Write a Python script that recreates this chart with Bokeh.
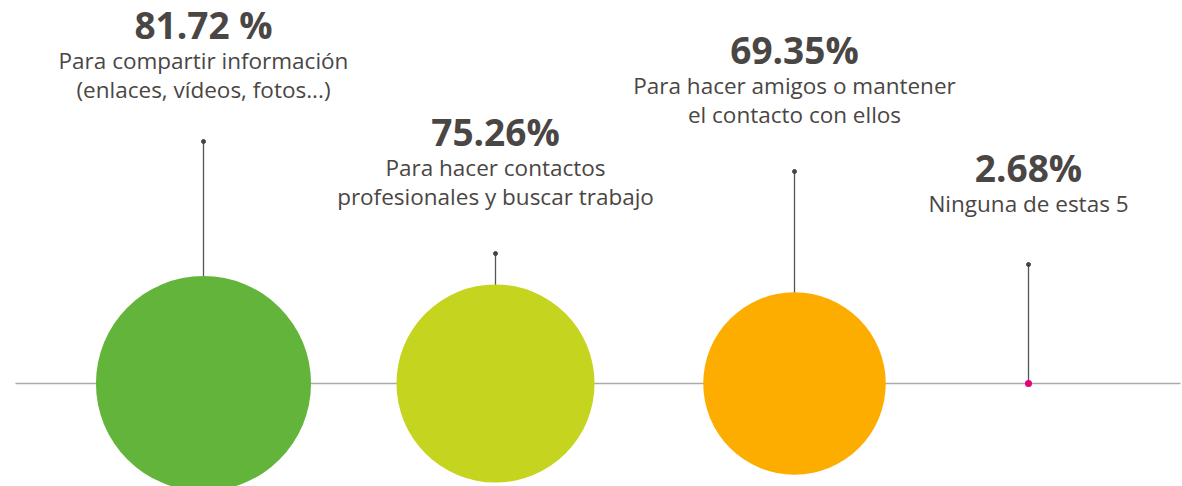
from bokeh.plotting import figure
from bokeh.models import Range1d, ColumnDataSource
from bokeh.core.properties import value
from bokeh.embed import file_html
from bokeh.resources import INLINE

# Data
percent_labels = ["81.72 %", "75.26%", "69.35%", "2.68%"]
values = [81.72, 75.26, 69.35, 2.68]
descriptions = [
    ["Para compartir información", "(enlaces, vídeos, fotos...)"],
    ["Para hacer contactos", "profesionales y buscar trabajo"],
    ["Para hacer amigos o mantener", "el contacto con ellos"],
    ["Ninguna de estas 5"],
]
colors = ["#63b43a", "#c5d41f", "#fdad00", "#e6007e"]

# Layout (positions in px-like data units)
x_centers = [203, 495, 794, 1028]
stem_tops = [242, 130, 212, 119]
pct_y = [359, 252, 334, 216]
scale = 1.316

W, H = 1182, 486
p = figure(width=W, height=H, output_backend="svg", toolbar_location=None,
           x_range=Range1d(0, W), y_range=Range1d(-103, 383),
           min_border=0)
p.axis.visible = False
p.grid.visible = False
p.outline_line_color = None
p.background_fill_color = "white"

# baseline
p.line(x=[15, 1180], y=[0, 0], line_color="#aaaaaa", line_width=1.5)

radii = [v * scale for v in values]
src = ColumnDataSource(dict(x=x_centers, y=[0] * 4, r=radii, c=colors,
                            top=stem_tops))

# stems
p.segment(x0="x", y0="y", x1="x", y1="top", source=src,
          line_color="#555555", line_width=1.3)
p.scatter(x="x", y="top", source=src, size=4, color="#444444")

# circles
p.circle(x="x", y="y", radius="r", source=src, fill_color="c",
         line_color=None)

text_color = "#4a4644"
# percent labels
p.text(x=x_centers, y=pct_y, text=percent_labels, text_align="center",
       text_baseline="middle", text_font=value("Open Sans"),
       text_font_style="bold", text_font_size="37px", text_color=text_color)

# description lines
dx, dy, dt = [], [], []
for xc, py, lines in zip(x_centers, pct_y, descriptions):
    for i, ln in enumerate(lines):
        dx.append(xc)
        dy.append(py - 36 - 29 * i)
        dt.append(ln)
p.text(x=dx, y=dy, text=dt, text_align="center", text_baseline="middle",
       text_font=value("Open Sans"), text_font_size="22.5px",
       text_color=text_color)

open("out.html", "w").write(file_html(p, INLINE))
